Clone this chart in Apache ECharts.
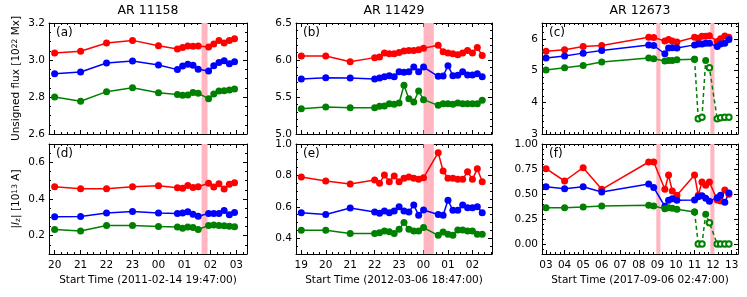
<!DOCTYPE html>
<html><head><meta charset="utf-8">
<script src="https://cdn.jsdelivr.net/npm/echarts@6/dist/echarts.min.js"></script>
<style>html,body{margin:0;padding:0;background:#fff}#c{width:747px;height:297px}</style>
</head><body><div id="c"></div>
<script>
// ---------- data ----------
const titles = ['AR 11158', 'AR 11429', 'AR 12673'];
const xNames = ['Start Time (2011-02-14 19:47:00)', 'Start Time (2012-03-06 18:47:00)', 'Start Time (2017-09-06 02:47:00)'];
const panelLabels = ['(a)', '(b)', '(c)', '(d)', '(e)', '(f)'];

// hours (since 00:00 of start day; >24 = next day)
const timesA = [20, 21, 22, 23, 24, 24.73, 24.93, 25.13, 25.33, 25.53, 25.93, 26.13, 26.33, 26.53, 26.73, 26.93];
const timesB = [19, 20, 21, 22, 22.2, 22.4, 22.6, 22.8, 23, 23.2, 23.4, 23.6, 23.8, 24, 24.6, 24.8, 25, 25.2, 25.4, 25.6, 25.8, 26, 26.2, 26.4];
const timesC = [3, 4, 5, 6, 8.53, 8.8, 9.4, 9.6, 9.8, 10.05, 11.0, 11.2, 11.4, 11.6, 11.8, 12.22, 12.4, 12.63, 12.85];

// (a) unsigned flux
const fluxA_red   = [3.038, 3.047, 3.092, 3.106, 3.077, 3.060, 3.067, 3.076, 3.074, 3.076, 3.070, 3.086, 3.106, 3.092, 3.106, 3.115];
const fluxA_blue  = [2.926, 2.935, 2.984, 2.995, 2.973, 2.948, 2.968, 2.977, 2.971, 2.950, 2.940, 2.969, 2.986, 2.996, 2.980, 2.991];
const fluxA_green = [2.800, 2.777, 2.829, 2.850, 2.823, 2.814, 2.809, 2.811, 2.825, 2.820, 2.791, 2.816, 2.832, 2.834, 2.838, 2.843];
// (b)
const fluxB_red   = [6.054, 6.054, 5.977, 6.032, 6.040, 6.095, 6.086, 6.086, 6.100, 6.120, 6.130, 6.130, 6.140, 6.160, 6.200, 6.110, 6.095, 6.086, 6.070, 6.095, 6.130, 6.095, 6.170, 6.060];
const fluxB_blue  = [5.743, 5.761, 5.757, 5.743, 5.757, 5.775, 5.788, 5.775, 5.842, 5.833, 5.842, 5.905, 5.842, 5.905, 5.779, 5.784, 5.923, 5.788, 5.793, 5.842, 5.797, 5.797, 5.815, 5.775];
const fluxB_green = [5.342, 5.365, 5.356, 5.356, 5.374, 5.378, 5.410, 5.401, 5.419, 5.658, 5.477, 5.432, 5.581, 5.464, 5.387, 5.410, 5.410, 5.401, 5.419, 5.410, 5.410, 5.410, 5.410, 5.455];
// (c)
const fluxC_red   = [5.61, 5.66, 5.76, 5.79, 6.05, 6.04, 5.93, 5.98, 5.93, 5.90, 6.05, 6.02, 6.08, 6.08, 6.10, 5.92, 6.00, 6.09, 6.05];
const fluxC_blue  = [5.40, 5.46, 5.55, 5.63, 5.81, 5.79, 5.53, 5.71, 5.72, 5.71, 5.81, 5.84, 5.84, 5.86, 5.86, 5.76, 5.84, 5.86, 5.98];
const fluxC_green = [5.02, 5.09, 5.16, 5.27, 5.40, 5.37, 5.30, 5.32, 5.32, 5.34, 5.36, 3.48, 3.53, 5.32, 5.09, 3.48, 3.51, 3.53, 3.53];
// (d) |Iz|
const curA_red   = [0.467, 0.456, 0.456, 0.467, 0.472, 0.461, 0.459, 0.474, 0.463, 0.467, 0.486, 0.465, 0.483, 0.454, 0.481, 0.488];
const curA_blue  = [0.303, 0.305, 0.324, 0.332, 0.323, 0.321, 0.324, 0.330, 0.317, 0.306, 0.321, 0.321, 0.321, 0.337, 0.314, 0.326];
const curA_green = [0.234, 0.225, 0.256, 0.256, 0.250, 0.247, 0.240, 0.247, 0.245, 0.234, 0.256, 0.258, 0.256, 0.254, 0.252, 0.249];
// (e)
const curB_red   = [0.790, 0.765, 0.746, 0.771, 0.750, 0.803, 0.760, 0.796, 0.760, 0.782, 0.790, 0.782, 0.775, 0.786, 0.945, 0.828, 0.782, 0.782, 0.775, 0.775, 0.824, 0.775, 0.843, 0.760];
const curB_blue  = [0.563, 0.551, 0.593, 0.568, 0.559, 0.574, 0.563, 0.574, 0.600, 0.574, 0.568, 0.612, 0.546, 0.580, 0.551, 0.546, 0.642, 0.578, 0.578, 0.612, 0.595, 0.595, 0.601, 0.563];
const curB_green = [0.451, 0.451, 0.430, 0.430, 0.436, 0.447, 0.442, 0.430, 0.457, 0.500, 0.457, 0.447, 0.447, 0.468, 0.419, 0.440, 0.425, 0.419, 0.453, 0.453, 0.447, 0.447, 0.425, 0.425];
// (f)
const curC_red   = [0.753, 0.630, 0.763, 0.547, 0.820, 0.820, 0.547, 0.690, 0.530, 0.487, 0.690, 0.487, 0.620, 0.587, 0.620, 0.440, 0.430, 0.540, 0.497];
const curC_blue  = [0.573, 0.553, 0.573, 0.520, 0.600, 0.565, 0.377, 0.437, 0.453, 0.437, 0.440, 0.473, 0.483, 0.457, 0.427, 0.463, 0.487, 0.417, 0.510];
const curC_green = [0.363, 0.363, 0.370, 0.380, 0.387, 0.380, 0.353, 0.363, 0.357, 0.347, 0.320, 0.000, 0.000, 0.297, 0.213, 0.000, 0.000, 0.000, 0.000];
// green quality flags for AR 12673 (1 = open marker, dashed)
const greenBadC = [0, 0, 0, 0, 0, 0, 0, 0, 0, 0, 0, 1, 1, 0, 1, 1, 1, 1, 1];

// axes
const hourTicks = [[20, 21, 22, 23, 24, 25, 26, 27], [19, 20, 21, 22, 23, 24, 25, 26], [3, 4, 5, 6, 7, 8, 9, 10, 11, 12, 13]];
const xRanges = [[19.783, 27.41], [18.783, 26.8], [2.783, 13.34]];
const yRanges = [[2.6, 3.2], [5.0, 6.5], [3, 6.5], [0.1, 0.7], [0.3, 1.0], [-0.1, 1.0]];
const yTicks = [[2.6, 2.8, 3.0, 3.2], [5.0, 5.5, 6.0, 6.5], [3, 4, 5, 6], [0.2, 0.4, 0.6], [0.4, 0.6, 0.8, 1.0], [0, 0.25, 0.5, 0.75, 1.0]];
const yDecimals = [1, 1, 0, 1, 1, 2];
const yMinorStep = [0.05, 0.1, 0.2, 0.05, 0.05, 0.05];
const bands = [[[25.66, 25.89]], [[24.0, 24.42]], [[8.94, 9.16], [11.85, 12.07]]];

// ---------- layout / style ----------
const FONT = 'DejaVu Sans';
const RED = '#ff0000', BLUE = '#0000ff', GREEN = '#008000', PINK = '#ffb6c1';
const cols = [{left: 49, width: 198}, {left: 296, width: 196}, {left: 542, width: 196}];
const rows = [{top: 23, height: 111}, {top: 144, height: 110}];

const times = [timesA, timesB, timesC];
const panelSeries = [
  [fluxA_red, fluxA_blue, fluxA_green], [fluxB_red, fluxB_blue, fluxB_green], [fluxC_red, fluxC_blue, fluxC_green],
  [curA_red, curA_blue, curA_green], [curB_red, curB_blue, curB_green], [curC_red, curC_blue, curC_green]
];

function minors(min, max, step, majors) {
  const out = [];
  const k0 = Math.ceil(min / step - 1e-9), k1 = Math.floor(max / step + 1e-9);
  for (let k = k0; k <= k1; k++) {
    const v = +(k * step).toFixed(6);
    if (!majors.some(m => Math.abs(m - v) < 1e-6)) out.push(v);
  }
  return out;
}

const grids = [], xAxes = [], yAxes = [], series = [], graphics = [];
const tickLine = {color: '#000', width: 1};
const lblStyle = {color: '#000', fontSize: 10.5, fontFamily: FONT};

for (let p = 0; p < 6; p++) {
  const c = p % 3, r = Math.floor(p / 3);
  grids.push({left: cols[c].left, width: cols[c].width, top: rows[r].top, height: rows[r].height});

  const xb = {gridIndex: p, type: 'value', min: xRanges[c][0], max: xRanges[c][1], splitLine: {show: false}};
  const xMaj = hourTicks[c];
  const xMin = minors(xRanges[c][0], xRanges[c][1], 0.25, xMaj);
  xAxes.push(
    Object.assign({}, xb, {position: 'bottom',
      axisLine: {show: true, onZero: false, lineStyle: tickLine},
      axisTick: {show: true, inside: true, length: 4, customValues: xMaj, lineStyle: tickLine},
      axisLabel: Object.assign({show: r === 1, customValues: xMaj, margin: 6,
        formatter: v => String(Math.round(v) % 24).padStart(2, '0')}, lblStyle),
      name: r === 1 ? xNames[c] : '', nameLocation: 'middle', nameGap: 21,
      nameTextStyle: lblStyle}),
    Object.assign({}, xb, {position: 'bottom', axisLine: {show: false, onZero: false},
      axisTick: {show: true, inside: true, length: 2, customValues: xMin, lineStyle: tickLine}, axisLabel: {show: false}}),
    Object.assign({}, xb, {position: 'top', axisLine: {show: true, onZero: false, lineStyle: tickLine},
      axisTick: {show: true, inside: true, length: 4, customValues: xMaj, lineStyle: tickLine}, axisLabel: {show: false}}),
    Object.assign({}, xb, {position: 'top', axisLine: {show: false, onZero: false},
      axisTick: {show: true, inside: true, length: 2, customValues: xMin, lineStyle: tickLine}, axisLabel: {show: false}})
  );

  const yb = {gridIndex: p, type: 'value', min: yRanges[p][0], max: yRanges[p][1], splitLine: {show: false}};
  const yMaj = yTicks[p];
  const yMin = minors(yRanges[p][0], yRanges[p][1], yMinorStep[p], yMaj);
  let yName = '';
  if (c === 0) yName = r === 0 ? 'Unsigned flux [10{sup|22} Mx]' : '|{it|I}{sub|z}| [10{sup|13} A]';
  yAxes.push(
    Object.assign({}, yb, {position: 'left',
      axisLine: {show: true, onZero: false, lineStyle: tickLine},
      axisTick: {show: true, inside: true, length: 4, customValues: yMaj, lineStyle: tickLine},
      axisLabel: Object.assign({show: true, customValues: yMaj, margin: 4,
        formatter: v => v.toFixed(yDecimals[p])}, lblStyle),
      name: yName, nameLocation: 'middle', nameGap: 27,
      nameTextStyle: Object.assign({}, lblStyle, {rich: {
        sup: {fontSize: 7.5, fontFamily: FONT, color: '#000', verticalAlign: 'top', padding: [0, 0, 0, 0]},
        sub: {fontSize: 7.5, fontFamily: FONT, color: '#000', verticalAlign: 'bottom'},
        it: {fontSize: 10.5, fontFamily: FONT, color: '#000', fontStyle: 'italic'}
      }})}),
    Object.assign({}, yb, {position: 'left', axisLine: {show: false, onZero: false},
      axisTick: {show: true, inside: true, length: 2, customValues: yMin, lineStyle: tickLine}, axisLabel: {show: false}}),
    Object.assign({}, yb, {position: 'right', axisLine: {show: true, onZero: false, lineStyle: tickLine},
      axisTick: {show: true, inside: true, length: 4, customValues: yMaj, lineStyle: tickLine}, axisLabel: {show: false}}),
    Object.assign({}, yb, {position: 'right', axisLine: {show: false, onZero: false},
      axisTick: {show: true, inside: true, length: 2, customValues: yMin, lineStyle: tickLine}, axisLabel: {show: false}})
  );

  const t = times[c];
  const [vr, vb, vg] = panelSeries[p];
  const base = {type: 'line', xAxisIndex: 4 * p, yAxisIndex: 4 * p, symbol: 'circle', symbolSize: 7,
    animation: false, silent: true};
  series.push(Object.assign({}, base, {
    data: t.map((x, i) => [x, vr[i]]), lineStyle: {color: RED, width: 1.5}, itemStyle: {color: RED},
    markArea: {silent: true, itemStyle: {color: PINK}, data: bands[c].map(b => [{xAxis: b[0]}, {xAxis: b[1]}])}
  }));
  series.push(Object.assign({}, base, {
    data: t.map((x, i) => [x, vb[i]]), lineStyle: {color: BLUE, width: 1.5}, itemStyle: {color: BLUE}
  }));
  if (c === 2) {
    const firstBad = greenBadC.indexOf(1);
    series.push(Object.assign({}, base, {
      data: t.slice(0, firstBad).map((x, i) => [x, vg[i]]), lineStyle: {color: GREEN, width: 1.5}, itemStyle: {color: GREEN}
    }));
    series.push(Object.assign({}, base, {
      data: t.map((x, i) => i < firstBad - 1 ? null : (greenBadC[i]
        ? {value: [x, vg[i]], symbol: 'emptyCircle', symbolSize: 5.5, itemStyle: {color: GREEN, borderColor: GREEN, borderWidth: 1}}
        : {value: [x, vg[i]], symbol: 'circle', itemStyle: {color: GREEN}})).filter(d => d !== null),
      lineStyle: {color: GREEN, width: 1.5, type: [4, 3]}, itemStyle: {color: GREEN}
    }));
  } else {
    series.push(Object.assign({}, base, {
      data: t.map((x, i) => [x, vg[i]]), lineStyle: {color: GREEN, width: 1.5}, itemStyle: {color: GREEN}
    }));
  }

  graphics.push({type: 'text', x: cols[c].left + 7, y: rows[r].top + 10,
    style: {text: panelLabels[p], fill: '#000', font: '12px "' + FONT + '"', textAlign: 'left', textVerticalAlign: 'middle'}});
}
for (let c = 0; c < 3; c++) {
  graphics.push({type: 'text', x: cols[c].left + cols[c].width / 2, y: 11,
    style: {text: titles[c], fill: '#000', font: '12.5px "' + FONT + '"', textAlign: 'center', textVerticalAlign: 'middle'}});
}

const chart = echarts.init(document.getElementById('c'), null, {renderer: 'canvas'});
chart.setOption({
  animation: false,
  backgroundColor: '#fff',
  grid: grids, xAxis: xAxes, yAxis: yAxes, series: series, graphic: graphics
});
</script>
</body></html>
